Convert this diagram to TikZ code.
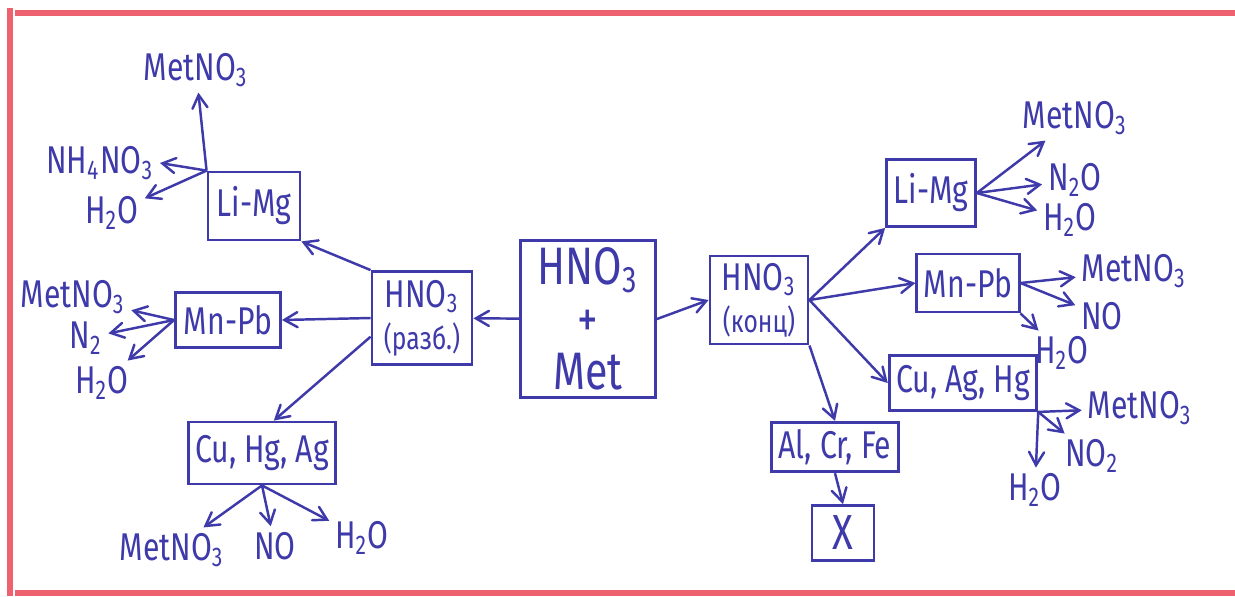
\documentclass[tikz,border=0pt]{standalone}
\usepackage{fontspec}
\setmainfont{Fira Sans}[FakeStretch=0.78]
\usetikzlibrary{arrows}
\definecolor{inkblue}{RGB}{62,58,170}
\definecolor{marginred}{RGB}{238,98,112}
\tikzset{
  metbox/.style={draw=inkblue, line width=0.8pt, text=inkblue, inner sep=2pt,
    align=center, font=\fontsize{11}{12}\selectfont},
  prod/.style={text=inkblue, inner sep=1.5pt, font=\fontsize{11}{12}\selectfont},
  arr/.style={draw=inkblue, line width=0.7pt, ->, >=angle 60},
}

\begin{document}
\begin{tikzpicture}[x=0.01cm, y=-0.01cm]
    \useasboundingbox (0,0) rectangle (1235,596);
    % sheet margins
    \fill[white] (0,0) rectangle (1235,596);
    \fill[marginred] (7,8) rectangle (13,596);
    \fill[marginred] (15,10) rectangle (1235,16);
    \fill[marginred] (15,590) rectangle (1235,596);

    % centre and both acid branches
    \node[metbox, minimum width=1.35cm, minimum height=1.52cm,
      font=\fontsize{15}{15}\selectfont] (start) at (588,319) {HNO\textsubscript{3}\\+\\Met};
    \node[metbox, minimum width=1cm, minimum height=0.93cm] (dil) at (422,318)
      {HNO\textsubscript{3}\\{\fontsize{9}{10}\selectfont(разб.)}};
    \node[metbox, minimum width=0.98cm, minimum height=0.85cm] (conc) at (759,300)
      {HNO\textsubscript{3}\\{\fontsize{9}{10}\selectfont(конц)}};

    % dilute acid
    \node[metbox, minimum width=0.92cm, minimum height=0.68cm] (dLi) at (254,206) {Li-Mg};
    \node[metbox, minimum width=1.05cm, minimum height=0.55cm] (dMn) at (228,320) {Mn-Pb};
    \node[metbox, minimum width=1.35cm, minimum height=0.62cm] (dCu) at (262,453) {Cu, Hg, Ag};

    \node[prod] (dLiA) at (196,70) {MetNO\textsubscript{3}};
    \node[prod] (dLiB) at (100,163) {NH\textsubscript{4}NO\textsubscript{3}};
    \node[prod] (dLiC) at (112,213) {H\textsubscript{2}O};
    \node[prod] (dMnA) at (73,297) {MetNO\textsubscript{3}};
    \node[prod] (dMnB) at (86,338) {N\textsubscript{2}};
    \node[prod] (dMnC) at (102,383) {H\textsubscript{2}O};
    \node[prod] (dCuA) at (172,550) {MetNO\textsubscript{3}};
    \node[prod] (dCuB) at (275,546) {NO};
    \node[prod] (dCuC) at (362,538) {H\textsubscript{2}O};

    % concentrated acid
    \node[metbox, minimum width=0.87cm, minimum height=0.67cm] (cLi) at (931,193) {Li-Mg};
    \node[metbox, minimum width=0.95cm, minimum height=0.58cm] (cMn) at (968,283) {Mn-Pb};
    \node[metbox, minimum width=1.2cm, minimum height=0.55cm] (cCu) at (963,383) {Cu, Ag, Hg};
    \node[metbox, minimum width=1.1cm, minimum height=0.48cm] (cAl) at (835,447) {Al, Cr, Fe};
    \node[metbox, minimum width=0.62cm, minimum height=0.55cm,
      font=\fontsize{14}{15}\selectfont] (none) at (843,533) {X};

    \node[prod] (cLiA) at (1075,118) {MetNO\textsubscript{3}};
    \node[prod] (cLiB) at (1075,180) {N\textsubscript{2}O};
    \node[prod] (cLiC) at (1070,220) {H\textsubscript{2}O};
    \node[prod] (cMnA) at (1134,271) {MetNO\textsubscript{3}};
    \node[prod] (cMnB) at (1102,316) {NO};
    \node[prod] (cMnC) at (1062,353) {H\textsubscript{2}O};
    \node[prod] (cCuA) at (1140,408) {MetNO\textsubscript{3}};
    \node[prod] (cCuB) at (1092,456) {NO\textsubscript{2}};
    \node[prod] (cCuC) at (1035,490) {H\textsubscript{2}O};

    \draw[arr] (start) -- (dil);
    \draw[arr] (start.east) -- (conc.west);

    \draw[arr] (dil.north west) -- (dLi.south east);
    \draw[arr] (dil.west) -- (dMn.east);
    \draw[arr] (dil.200) -- (dCu.70);

    \draw[arr] (dLi.north west) -- (dLiA);
    \draw[arr] (dLi.north west) -- (dLiB.east);
    \draw[arr] (dLi.north west) -- (dLiC);
    \draw[arr] (dMn.west) -- (dMnA);
    \draw[arr] (dMn.west) -- (dMnB);
    \draw[arr] (dMn.west) -- (dMnC);
    \draw[arr] (dCu.south) -- (dCuA);
    \draw[arr] (dCu.south) -- (dCuB);
    \draw[arr] (dCu.south) -- (dCuC);

    \draw[arr] (conc.east) -- (cLi.south west);
    \draw[arr] (conc.east) -- (cMn.west);
    \draw[arr] (conc.east) -- (cCu.west);
    \draw[arr] (conc.south east) -- (cAl.north);
    \draw[arr] (cAl.south) -- (none.north);

    \draw[arr] (cLi.east) -- (cLiA);
    \draw[arr] (cLi.east) -- (cLiB);
    \draw[arr] (cLi.east) -- (cLiC);
    \draw[arr] (cMn.east) -- (cMnA);
    \draw[arr] (cMn.east) -- (cMnB);
    \draw[arr] (cMn.south east) -- (cMnC);
    \draw[arr] (cCu.south east) -- (cCuA);
    \draw[arr] (cCu.south east) -- (cCuB);
    \draw[arr] (cCu.south east) -- (cCuC);
\end{tikzpicture}
\end{document}
